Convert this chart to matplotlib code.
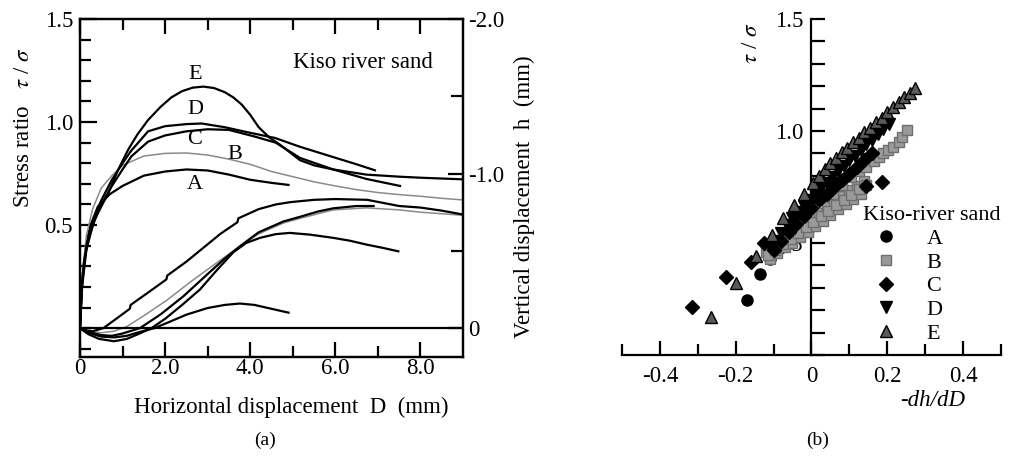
import matplotlib
matplotlib.use('Agg')
import matplotlib.pyplot as plt
import numpy as np
from matplotlib.ticker import MultipleLocator, FixedLocator

plt.rcParams['font.family'] = 'Liberation Serif'
plt.rcParams['mathtext.fontset'] = 'stix'
plt.rcParams['axes.unicode_minus'] = False

# ---- (a) stress ratio curves : horizontal displacement D (mm), tau/sigma
stress_A_D = [0, 0.03, 0.08, 0.15, 0.23, 0.42, 0.7, 1.0, 1.5, 2.0, 2.5, 3.0, 3.5, 4.0, 4.5, 4.9]
stress_A = [0, 0.15, 0.3, 0.4, 0.49, 0.59, 0.65, 0.69, 0.74, 0.76, 0.77, 0.765, 0.745, 0.72, 0.705, 0.695]

stress_B_D = [0, 0.05, 0.15, 0.3, 0.5, 0.75, 1.0, 1.5, 2.0, 2.5, 3.0, 3.5, 4.0, 4.5, 5.0, 5.5, 6.0,
              6.5, 7.0, 7.5, 8.0, 8.5, 9.0]
stress_B = [0, 0.25, 0.45, 0.58, 0.68, 0.74, 0.79, 0.835, 0.848, 0.85, 0.84, 0.82, 0.795, 0.76,
            0.735, 0.71, 0.69, 0.672, 0.658, 0.648, 0.64, 0.63, 0.622]

stress_C_D = [0, 0.05, 0.15, 0.3, 0.5, 0.75, 1.0, 1.21, 1.6, 2.0, 2.5, 3.0, 3.5, 4.1, 4.6, 5.17,
              5.95, 6.73, 7.52]
stress_C = [0, 0.2, 0.38, 0.5, 0.6, 0.69, 0.77, 0.834, 0.905, 0.935, 0.955, 0.965, 0.962, 0.93,
            0.9, 0.826, 0.77, 0.724, 0.69]

stress_D_D = [0, 0.05, 0.15, 0.3, 0.5, 0.75, 1.0, 1.2, 1.6, 2.0, 2.5, 2.86, 3.4, 3.95, 4.58, 5.17,
              5.95, 6.5, 6.93]
stress_D = [0, 0.22, 0.4, 0.52, 0.62, 0.72, 0.8, 0.86, 0.955, 0.98, 0.99, 0.993, 0.975, 0.95,
            0.923, 0.88, 0.83, 0.795, 0.766]

stress_E_D = [0, 0.04, 0.1, 0.2, 0.35, 0.665, 0.9, 1.135, 1.35, 1.6, 1.9, 2.15, 2.4, 2.65, 2.9,
              3.15, 3.4, 3.6, 3.8, 4.0, 4.2, 4.45, 4.7, 5.17, 5.5, 5.95, 6.73, 7.5, 8.0, 9.0]
stress_E = [0, 0.2, 0.33, 0.43, 0.53, 0.656, 0.77, 0.867, 0.94, 1.01, 1.075, 1.12, 1.15, 1.167,
            1.172, 1.165, 1.145, 1.12, 1.085, 1.035, 0.975, 0.925, 0.89, 0.815, 0.79, 0.77,
            0.745, 0.735, 0.73, 0.722]

# ---- (a) vertical displacement curves : D (mm), h (mm)
disp_A_D = [0, 0.2, 0.5, 0.8, 1.1, 1.4, 1.75, 2.1, 2.5, 3.0, 3.4, 3.76, 4.1, 4.5, 4.9]
disp_A = [0, 0.03, 0.055, 0.06, 0.05, 0.025, 0.0, -0.04, -0.087, -0.13, -0.15, -0.159, -0.15,
          -0.125, -0.10]

disp_B_D = [0, 0.2, 0.5, 0.8, 1.1, 1.5, 2.04, 2.6, 3.2, 3.76, 4.2, 4.78, 5.17, 5.95, 6.73, 7.5,
            8.0, 8.5, 9.0]
disp_B = [0, 0.02, 0.03, 0.02, -0.01, -0.08, -0.18, -0.3, -0.42, -0.53, -0.61, -0.68, -0.71,
          -0.765, -0.778, -0.765, -0.75, -0.74, -0.73]

disp_C_D = [0, 0.2, 0.45, 0.8, 1.1, 1.4, 1.68, 2.0, 2.4, 2.82, 3.2, 3.6, 3.9, 4.23, 4.6, 4.93,
            5.4, 5.95, 6.35, 6.74, 7.1, 7.48]
disp_C = [0, 0.04, 0.07, 0.085, 0.07, 0.035, 0.0, -0.06, -0.15, -0.25, -0.37, -0.49, -0.55,
          -0.584, -0.608, -0.616, -0.605, -0.584, -0.565, -0.54, -0.52, -0.497]

disp_D_D = [0, 0.2, 0.5, 0.75, 1.0, 1.41, 1.9, 2.43, 3.0, 3.4, 3.76, 4.2, 4.78, 5.17, 5.6, 5.95,
            6.5, 6.9]
disp_D = [0, 0.025, 0.045, 0.05, 0.035, 0.0, -0.09, -0.206, -0.35, -0.45, -0.53, -0.62, -0.69,
          -0.72, -0.755, -0.775, -0.79, -0.79]

disp_E_D = [0, 0.15, 0.3, 0.55, 0.85, 1.17, 1.19, 1.6, 2.03, 2.05, 2.5, 2.9, 3.3, 3.7, 3.72, 4.2,
            4.6, 4.94, 5.5, 6.0, 6.75, 7.5, 8.0, 8.5, 9.0]
disp_E = [0, 0.015, 0.02, 0.0, -0.06, -0.125, -0.15, -0.23, -0.315, -0.34, -0.43, -0.52, -0.61,
          -0.685, -0.71, -0.77, -0.80, -0.815, -0.83, -0.835, -0.83, -0.79, -0.78, -0.76, -0.735]

# ---- (b) tau/sigma en fonction de -dh/dD
pts_A_x = [-0.171, -0.136, -0.109, -0.083, -0.06, -0.035, -0.01, 0.01, 0.03, 0.05, 0.07, 0.09]
pts_A_y = [0.245, 0.36, 0.43, 0.478, 0.50, 0.53, 0.56, 0.59, 0.615, 0.64, 0.665, 0.69]

pts_B_x = [-0.12, -0.1, -0.08, -0.06, -0.04, -0.02, 0.0, 0.02, 0.04, 0.06, 0.08, 0.1, 0.12, 0.14,
           -0.11, -0.09, -0.07, -0.05, -0.03, -0.01, 0.01, 0.03, 0.05, 0.07, 0.09, 0.11, 0.13,
           -0.115, -0.095, -0.075, -0.055, -0.035, -0.015, 0.005, 0.025, 0.045, 0.065, 0.085,
           0.105, 0.125, 0.145,
           0.056, 0.08, 0.104, 0.125, 0.145, 0.165, 0.177, 0.19, 0.203, 0.215, 0.23, 0.24, 0.251]
pts_B_y = [0.46, 0.49, 0.51, 0.54, 0.56, 0.59, 0.61, 0.635, 0.66, 0.685, 0.71, 0.735, 0.755, 0.775,
           0.43, 0.455, 0.48, 0.50, 0.525, 0.55, 0.575, 0.60, 0.625, 0.65, 0.675, 0.695, 0.72,
           0.445, 0.47, 0.495, 0.52, 0.545, 0.57, 0.595, 0.62, 0.645, 0.67, 0.69,
           0.715, 0.74, 0.76,
           0.72, 0.76, 0.796, 0.82, 0.84, 0.865, 0.885, 0.90, 0.915, 0.93, 0.95, 0.975, 1.004]

pts_C_x = [-0.314, -0.225, -0.16, -0.125, -0.1, -0.08, -0.06, -0.04, -0.02, 0.0, 0.02, 0.04, 0.06,
           0.08, 0.1, 0.12, 0.14, 0.16, 0.143, 0.186]
pts_C_y = [0.216, 0.35, 0.417, 0.50, 0.47, 0.51, 0.55, 0.585, 0.62, 0.655, 0.69, 0.72, 0.75,
           0.78, 0.81, 0.84, 0.87, 0.9, 0.754, 0.774]

pts_D_x = [-0.11, -0.095, -0.08, -0.065, -0.05, -0.035, -0.02, -0.005, 0.01, 0.025, 0.04, 0.055,
           0.07, 0.085, 0.1, 0.115, 0.13, 0.145, 0.16, 0.175, 0.19, 0.205, 0.056, 0.0]
pts_D_y = [0.48, 0.51, 0.545, 0.58, 0.61, 0.64, 0.665, 0.69, 0.72, 0.745, 0.77, 0.795, 0.82, 0.845,
           0.87, 0.89, 0.915, 0.94, 0.96, 0.985, 1.01, 1.03, 0.766, 0.68]

pts_E_x = [-0.264, -0.199, -0.147, -0.104, -0.074, -0.045, -0.019, 0.004, 0.02, 0.035, 0.05, 0.065,
           0.08, 0.095, 0.11, 0.125, 0.14, 0.155, 0.17, 0.185, 0.2, 0.215, 0.23, 0.245, 0.26, 0.273]
pts_E_y = [0.171, 0.32, 0.44, 0.536, 0.61, 0.67, 0.72, 0.766, 0.80, 0.83, 0.855, 0.88, 0.905, 0.925,
           0.95, 0.97, 0.995, 1.015, 1.04, 1.06, 1.085, 1.105, 1.13, 1.15, 1.17, 1.19]

labels = ['A', 'B', 'C', 'D', 'E']

fs = 16.5

fig = plt.figure(figsize=(10.1, 4.59), dpi=100)

# ================= (a) =================
ax = fig.add_axes([0.0792, 0.2222, 0.3792, 0.7364])
ax2 = ax.twinx()

lw = 1.6
ax.plot(stress_A_D, stress_A, color='black', lw=lw)
ax.plot(stress_B_D, stress_B, color='#8a8a8a', lw=1.1)
ax.plot(stress_C_D, stress_C, color='black', lw=lw)
ax.plot(stress_D_D, stress_D, color='black', lw=lw)
ax.plot(stress_E_D, stress_E, color='black', lw=lw)

ax2.plot(disp_A_D, disp_A, color='black', lw=lw)
ax2.plot(disp_B_D, disp_B, color='#8a8a8a', lw=1.1)
ax2.plot(disp_C_D, disp_C, color='black', lw=lw)
ax2.plot(disp_D_D, disp_D, color='black', lw=lw)
ax2.plot(disp_E_D, disp_E, color='black', lw=lw)
ax2.axhline(0, color='black', lw=1.6)

ax.set_xlim(0, 9)
ax.set_ylim(-0.14, 1.5)
ax2.set_ylim(0.187, -2.0)

ax.xaxis.set_major_locator(FixedLocator([0, 2, 4, 6, 8]))
ax.set_xticklabels(['0', '2.0', '4.0', '6.0', '8.0'])
ax.xaxis.set_minor_locator(FixedLocator([1, 3, 5, 7]))
ax.yaxis.set_major_locator(FixedLocator([0.5, 1.0, 1.5]))
ax.set_yticklabels(['0.5', '1.0', '1.5'])
ax.yaxis.set_minor_locator(MultipleLocator(0.1))
ax.tick_params(which='both', direction='in', top=True, right=False, width=1.6, labelsize=fs)
ax.tick_params(axis='x', which='major', length=11, pad=1)
ax.tick_params(axis='x', which='minor', length=8)
ax.tick_params(axis='y', which='major', length=12, pad=5)
ax.tick_params(axis='y', which='minor', length=8)

ax2.yaxis.set_major_locator(FixedLocator([-2.0, -1.0, 0]))
ax2.set_yticklabels(['-2.0', '-1.0', '0'])
ax2.yaxis.set_minor_locator(FixedLocator([-1.5, -0.5]))
ax2.tick_params(which='both', direction='in', width=1.6, labelsize=fs, pad=4)
ax2.tick_params(which='major', length=11)
ax2.tick_params(which='minor', length=9)

for sp in list(ax.spines.values()) + list(ax2.spines.values()):
    sp.set_linewidth(1.6)

# Textes de la figure (a)
ax.text(-0.148, 0.678, r'Stress ratio   $\tau$ / $\sigma$', transform=ax.transAxes,
        rotation=90, ha='center', va='center', fontsize=fs)
ax.text(1.16, 0.473, 'Vertical displacement  h  (mm)', transform=ax.transAxes,
        rotation=90, ha='center', va='center', fontsize=fs)
ax.text(0.551, -0.148, 'Horizontal displacement  D  (mm)', transform=ax.transAxes,
        ha='center', va='center', fontsize=fs)
ax.text(5.0, 1.288, 'Kiso river sand', ha='left', va='center', fontsize=16.5)
letter_pos = [(2.7, 0.697), (3.64, 0.842), (2.7, 0.915), (2.7, 1.06), (2.7, 1.23)]
for lab, (px, py) in zip(labels, letter_pos):
    ax.text(px, py, lab, ha='center', va='center', fontsize=16)
fig.text(265 / 1010, 1 - 440 / 459, '(a)', ha='center', va='center', fontsize=14)

# ================= (b) =================
axb = fig.add_axes([0.6158, 0.2266, 0.3752, 0.7320])
axb.set_xlim(-0.5, 0.5)
axb.set_ylim(0, 1.5)
axb.spines['left'].set_position(('data', 0))
axb.spines['top'].set_visible(False)
axb.spines['right'].set_visible(False)
axb.spines['left'].set_linewidth(1.6)
axb.spines['bottom'].set_linewidth(1.6)

hA, = axb.plot(pts_A_x, pts_A_y, 'o', color='black', ms=8, zorder=3, label='A')
hB, = axb.plot(pts_B_x, pts_B_y, 's', color='#9a9a9a', mec='#6e6e6e', ms=7.5, zorder=3, label='B')
hC, = axb.plot(pts_C_x, pts_C_y, 'D', color='black', ms=7, zorder=3, label='C')
hD, = axb.plot(pts_D_x, pts_D_y, 'v', color='black', ms=9, zorder=3, label='D')
hE, = axb.plot(pts_E_x, pts_E_y, '^', mfc='#5a5a5a', mec='black', ms=9, zorder=3, label='E')

axb.xaxis.set_major_locator(FixedLocator([-0.4, -0.2, 0, 0.2, 0.4]))
axb.set_xticklabels(['-0.4', '-0.2', '0', '0.2', '0.4'])
axb.xaxis.set_minor_locator(MultipleLocator(0.1))
axb.yaxis.set_major_locator(FixedLocator([0.5, 1.0, 1.5]))
axb.set_yticklabels(['0.5', '1.0', '1.5'])
axb.yaxis.set_minor_locator(MultipleLocator(0.1))
axb.tick_params(which='both', direction='in', width=1.6, labelsize=fs)
axb.tick_params(axis='x', which='major', length=10, pad=8)
axb.tick_params(axis='x', which='minor', length=8)
axb.tick_params(axis='y', which='both', length=10, pad=6)

axb.text(0.343, 0.929, r'$\tau$ / $\sigma$', transform=axb.transAxes, rotation=90,
         ha='center', va='center', fontsize=fs)
axb.text(0.82, -0.135, '-dh/dD', transform=axb.transAxes, ha='center', va='center',
         fontsize=fs, style='italic')

leg = axb.legend(handles=[hA, hB, hC, hD, hE], title='Kiso-river sand', alignment='left',
                 loc='upper left', bbox_to_anchor=(0.636, 0.442), frameon=False,
                 borderpad=0, borderaxespad=0, handlelength=2.1, handletextpad=0.75,
                 labelspacing=0.14, fontsize=16, title_fontsize=16)
leg.set_zorder(4)

fig.text(818 / 1010, 1 - 440 / 459, '(b)', ha='center', va='center', fontsize=14)

plt.savefig('out.png', dpi=100)
